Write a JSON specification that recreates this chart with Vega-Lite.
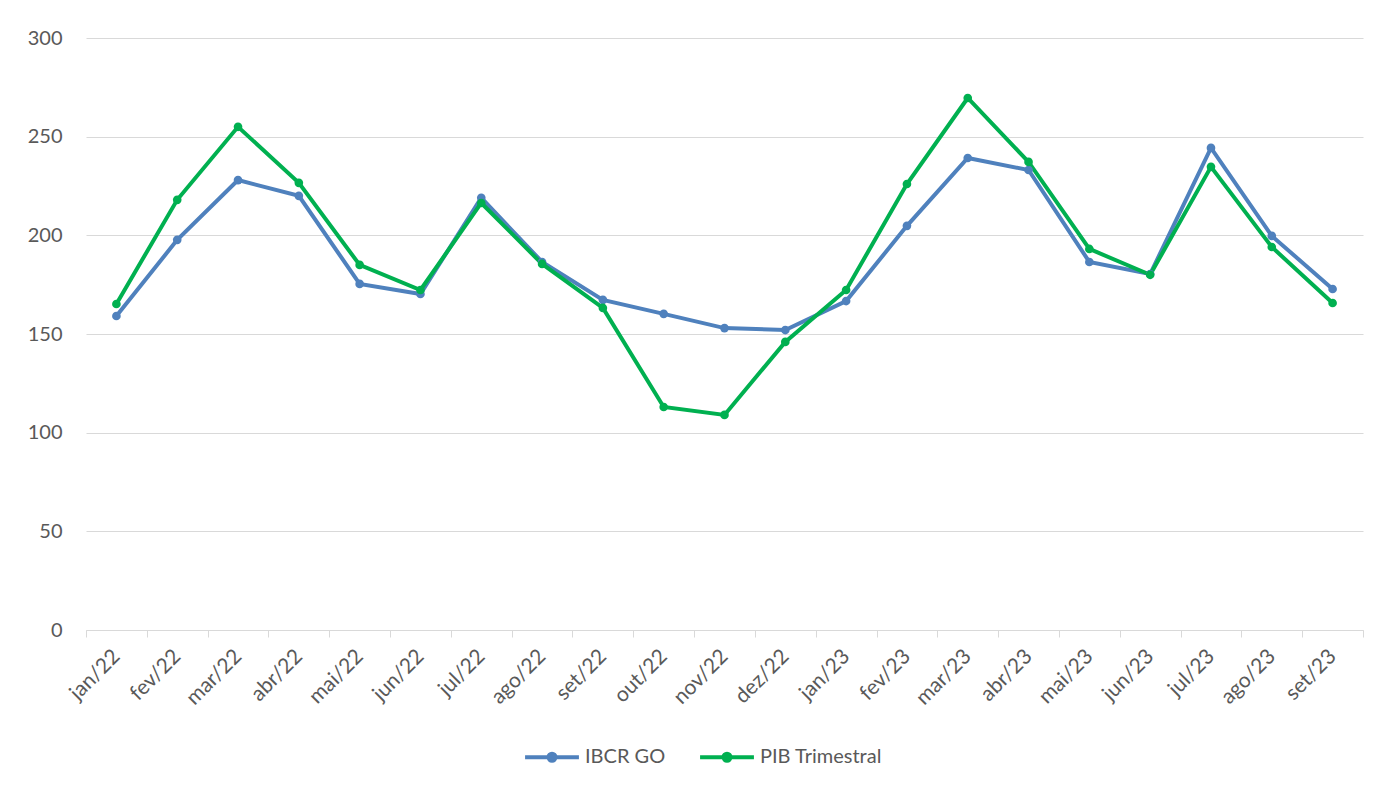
{
  "$schema": "https://vega.github.io/schema/vega-lite/v6.json",
  "autosize": "none",
  "width": 1277,
  "height": 592,
  "padding": {"left": 86, "top": 38, "right": 18, "bottom": 159},
  "background": "white",
  "data": {
    "values": [
      {"mes": "jan/22", "serie": "IBCR GO", "valor": 159.1},
      {"mes": "fev/22", "serie": "IBCR GO", "valor": 197.7},
      {"mes": "mar/22", "serie": "IBCR GO", "valor": 228.0},
      {"mes": "abr/22", "serie": "IBCR GO", "valor": 220.0},
      {"mes": "mai/22", "serie": "IBCR GO", "valor": 175.4},
      {"mes": "jun/22", "serie": "IBCR GO", "valor": 170.3},
      {"mes": "jul/22", "serie": "IBCR GO", "valor": 219.0},
      {"mes": "ago/22", "serie": "IBCR GO", "valor": 186.5},
      {"mes": "set/22", "serie": "IBCR GO", "valor": 167.3},
      {"mes": "out/22", "serie": "IBCR GO", "valor": 160.2},
      {"mes": "nov/22", "serie": "IBCR GO", "valor": 153.0},
      {"mes": "dez/22", "serie": "IBCR GO", "valor": 152.0},
      {"mes": "jan/23", "serie": "IBCR GO", "valor": 166.7},
      {"mes": "fev/23", "serie": "IBCR GO", "valor": 204.8},
      {"mes": "mar/23", "serie": "IBCR GO", "valor": 239.2},
      {"mes": "abr/23", "serie": "IBCR GO", "valor": 233.1},
      {"mes": "mai/23", "serie": "IBCR GO", "valor": 186.5},
      {"mes": "jun/23", "serie": "IBCR GO", "valor": 180.4},
      {"mes": "jul/23", "serie": "IBCR GO", "valor": 244.3},
      {"mes": "ago/23", "serie": "IBCR GO", "valor": 199.7},
      {"mes": "set/23", "serie": "IBCR GO", "valor": 172.8},
      {"mes": "jan/22", "serie": "PIB Trimestral", "valor": 165.2},
      {"mes": "fev/22", "serie": "PIB Trimestral", "valor": 218.0},
      {"mes": "mar/22", "serie": "PIB Trimestral", "valor": 255.0},
      {"mes": "abr/22", "serie": "PIB Trimestral", "valor": 226.6},
      {"mes": "mai/22", "serie": "PIB Trimestral", "valor": 185.0},
      {"mes": "jun/22", "serie": "PIB Trimestral", "valor": 172.3},
      {"mes": "jul/22", "serie": "PIB Trimestral", "valor": 216.4},
      {"mes": "ago/22", "serie": "PIB Trimestral", "valor": 185.5},
      {"mes": "set/22", "serie": "PIB Trimestral", "valor": 163.2},
      {"mes": "out/22", "serie": "PIB Trimestral", "valor": 113.0},
      {"mes": "nov/22", "serie": "PIB Trimestral", "valor": 109.0},
      {"mes": "dez/22", "serie": "PIB Trimestral", "valor": 146.0},
      {"mes": "jan/23", "serie": "PIB Trimestral", "valor": 172.3},
      {"mes": "fev/23", "serie": "PIB Trimestral", "valor": 226.0},
      {"mes": "mar/23", "serie": "PIB Trimestral", "valor": 269.6},
      {"mes": "abr/23", "serie": "PIB Trimestral", "valor": 237.2},
      {"mes": "mai/23", "serie": "PIB Trimestral", "valor": 193.1},
      {"mes": "jun/23", "serie": "PIB Trimestral", "valor": 180.0},
      {"mes": "jul/23", "serie": "PIB Trimestral", "valor": 234.7},
      {"mes": "ago/23", "serie": "PIB Trimestral", "valor": 194.1},
      {"mes": "set/23", "serie": "PIB Trimestral", "valor": 165.7}
    ]
  },
  "mark": {"type": "line", "strokeWidth": 4, "point": {"size": 75, "filled": true}},
  "encoding": {
    "x": {
      "field": "mes",
      "type": "ordinal",
      "sort": null,
      "scale": {"type": "band", "paddingInner": 0, "paddingOuter": 0},
      "axis": {
        "title": null,
        "labelAngle": -45,
        "labelAlign": "right",
        "labelBaseline": "middle",
        "labelFontSize": 21,
        "labelPadding": 16,
        "tickBand": "extent",
        "tickSize": 7,
        "tickColor": "#d9d9d9",
        "domainColor": "#d9d9d9",
        "domainWidth": 1,
        "grid": false
      }
    },
    "y": {
      "field": "valor",
      "type": "quantitative",
      "scale": {"domain": [0, 300], "nice": false, "zero": true},
      "axis": {
        "title": null,
        "values": [0, 50, 100, 150, 200, 250, 300],
        "labelFontSize": 20,
        "labelPadding": 24,
        "ticks": false,
        "domain": false,
        "grid": true,
        "gridColor": "#d9d9d9",
        "gridWidth": 1
      }
    },
    "color": {
      "field": "serie",
      "type": "nominal",
      "scale": {"domain": ["IBCR GO", "PIB Trimestral"], "range": ["#4F81BD", "#00B050"]},
      "legend": {
        "title": null,
        "orient": "none",
        "direction": "horizontal",
        "legendX": 437,
        "legendY": 690,
        "labelFontSize": 20,
        "labelColor": "#595959",
        "symbolType": "M-1,0L1,0M0.13,0A0.13,0.13,0,1,1,-0.13,0A0.13,0.13,0,1,1,0.13,0Z",
        "symbolSize": 2900,
        "symbolStrokeWidth": 4,
        "columnPadding": 26,
        "labelOffset": 4
      }
    }
  },
  "config": {
    "font": "Lato",
    "view": {"stroke": null},
    "axis": {"labelColor": "#595959", "labelFont": "Lato"},
    "legend": {"labelFont": "Lato"}
  }
}
